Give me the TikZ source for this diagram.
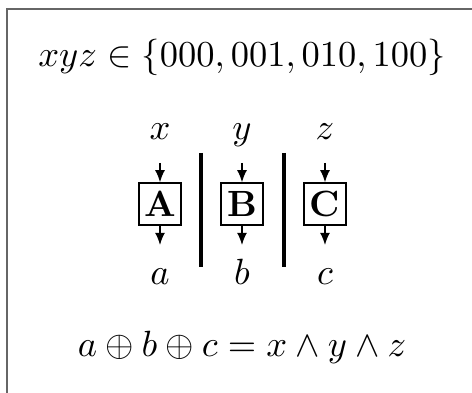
\documentclass[tikz,border=0pt]{standalone}
\usepackage{amsmath}
\usetikzlibrary{positioning,arrows.meta}
\tikzset{
  gate/.style={draw,thin,minimum size=11.5pt,inner sep=0pt,font=\bfseries},
  flow/.style={-{Latex[length=3.3pt,width=2.7pt]},thin},
  wall/.style={line width=1.2pt},
  frame/.style={black!60,line width=0.5pt}
}

\begin{document}
\begin{tikzpicture}[x=0.274pt,y=-0.274pt]
  \useasboundingbox (0,0) rectangle (472,393);
  \draw[frame] (6.7,393) -- (6.7,8.7) -- (472,8.7);
  \node[anchor=base] (title) at (242,67) {$xyz \in \{000, 001, 010, 100\}$};
  % the three parties
  \foreach \n/\i/\o/\xx in {A/x/a/160, B/y/b/242, C/z/c/325}{
    \node[anchor=base] (in\n) at (\xx,140) {$\i$};
    \node[gate] (\n) at (\xx,204) {\n};
    \node[anchor=base] (out\n) at (\xx,285) {$\o$};
    \coordinate (top\n) at (\xx,163);
    \coordinate (bot\n) at (\xx,245);
    \draw[flow] (top\n) -- (\n);
    \draw[flow] (\n) -- (bot\n);
  }
  \coordinate (wallAt) at (201,153);
  \coordinate (wallAb) at (201,267);
  \coordinate (wallBt) at (284,153);
  \coordinate (wallBb) at (284,267);
  \draw[wall] (wallAt) -- (wallAb);
  \draw[wall] (wallBt) -- (wallBb);
  \node[anchor=base] (rule) at (242,357) {$a \oplus b \oplus c = x \wedge y \wedge z$};
\end{tikzpicture}
\end{document}
